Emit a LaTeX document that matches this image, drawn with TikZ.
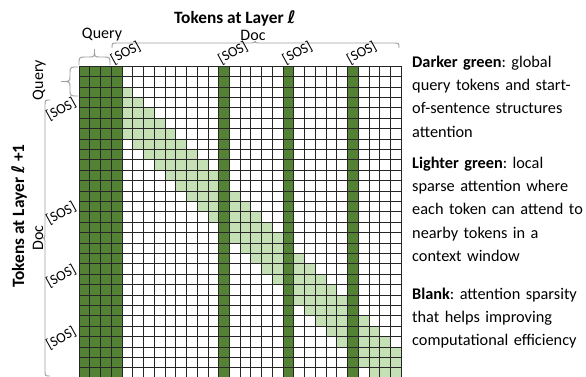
\documentclass[tikz,border=0pt]{standalone}
\usepackage{fontspec}
\setmainfont{Carlito}
\newfontfamily\ellfont{DejaVu Sans}
\newcommand{\layl}{{\ellfont\bfseries\itshape ℓ}}
\frenchspacing
\definecolor{darkg}{HTML}{548235}
\definecolor{lightg}{HTML}{C5E0B4}
\definecolor{brgray}{HTML}{A0A0A0}
\tikzset{
  gridln/.style={draw=black!85, line width=0.6pt},
  brc/.style={draw=brgray, line width=0.9pt},
  soslbl/.style={font=\fontsize{14.3}{16}\selectfont, inner sep=0.3pt, rotate=29},
  grplbl/.style={font=\fontsize{16}{18}\selectfont, inner sep=0pt},
  titlelbl/.style={font=\fontsize{17.3}{19}\selectfont\bfseries, inner sep=0pt},
  desc/.style={font=\fontsize{16.3}{23.2}\selectfont, text width=180pt, align=left, inner sep=0pt, anchor=base west},
}
\begin{document}
\begin{tikzpicture}[x=1pt,y=-1pt]
\useasboundingbox (0,0) rectangle (586,376);
\fill[white] (0,0) rectangle (586,376);
\begin{scope}
\clip (0,0) rectangle (586,376);
% light band (local attention window)
\foreach \r in {0,...,29}{
  \foreach \d in {-2,...,2}{
    \pgfmathtruncatemacro\cidx{\r+\d}
    \ifnum\cidx>3 \ifnum\cidx<30
      \fill[lightg] ({79+\cidx*10.7333},{66+\r*10.4}) rectangle ++(10.7333,10.4);
    \fi\fi
  }
}
% dark columns (global tokens)
\foreach \c in {0,1,2,3,13,19,25}
  \fill[darkg] ({79+\c*10.7333},66) rectangle ++(10.7333,312);
% grid
\foreach \i in {0,...,30}{
  \draw[gridln] ({79+\i*10.7333},66) -- ({79+\i*10.7333},378);
  \draw[gridln] (79,{66+\i*10.4}) -- (401,{66+\i*10.4});
}
% braces
\draw[brc] (79,65) .. controls (79,57) .. (85,57) -- (89,57) .. controls (94.5,57) .. (94.5,49) .. controls (94.5,57) .. (100,57) -- (104,57) .. controls (110,57) .. (110,65);
\draw[brc] (112,48) .. controls (112,43) .. (118,43) -- (249,43) .. controls (255,43) .. (255,38.5) .. controls (255,43) .. (261,43) -- (393,43) .. controls (399,43) .. (399,48);
\draw[brc] (78,67) .. controls (70,67) .. (70,73) -- (70,76) .. controls (70,81.5) .. (61,81.5) .. controls (70,81.5) .. (70,87) -- (70,90) .. controls (70,96) .. (78,96);
\draw[brc] (50,100) .. controls (45,100) .. (45,106) -- (45,232) .. controls (45,238) .. (41,238) .. controls (45,238) .. (45,244) -- (45,370) .. controls (45,376) .. (50,376);
\end{scope}
% titles
\node[titlelbl, anchor=base] (ttop) at (235,23.5) {Tokens at Layer \layl};
\node[titlelbl, rotate=90] (tleft) at (19,216) {Tokens at Layer \layl\ +1};
% group labels
\node[grplbl, anchor=base] (qtop) at (102,38.5) {Query};
\node[grplbl, anchor=base, fill=white] (dtop) at (253,40.5) {Doc};
\node[grplbl, rotate=90, anchor=base] (qleft) at (43,80) {Query};
\node[grplbl, rotate=90, anchor=base, fill=white] (dleft) at (43,238) {Doc};
% SOS labels
\foreach \c in {3,13,19,25}
  \node[soslbl, anchor=south west] (st\c) at ({79+\c*10.7333+3.5},66.5) {[SOS]};
\foreach \r in {3,13,19,25}
  \node[soslbl, anchor=south east] (sl\r) at (78.5,{66+(\r+1)*10.4}) {[SOS]};
% descriptions
\node[desc] (d1) at (412,67.5) {\textbf{Darker green}: global\\query tokens and start-\\of-sentence structures\\attention};
\node[desc] (d2) at (412,168.5) {\textbf{Lighter green}: local\\sparse attention where\\each token can attend to\\nearby tokens in a\\context window};
\node[desc] (d3) at (412,299) {\textbf{Blank}: attention sparsity\\that helps improving\\computational efficiency};
\end{tikzpicture}
\end{document}
